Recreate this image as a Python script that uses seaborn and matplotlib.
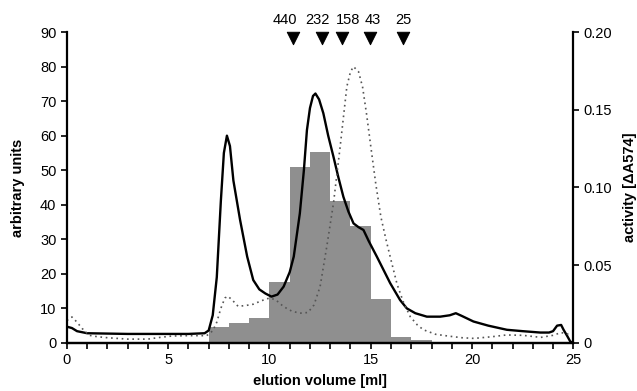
import numpy as np
import pandas as pd
import matplotlib
matplotlib.use("Agg")
import matplotlib.pyplot as plt
import seaborn as sns

# Absorbance trace (solid), arbitrary units
solid_x = [0, 0.25, 0.5, 1, 2, 3, 4, 5, 6, 6.8, 7.0, 7.2, 7.4, 7.6, 7.75, 7.9, 8.05, 8.22,
           8.55, 8.9, 9.2, 9.5, 9.8, 10.1, 10.4, 10.7, 11.0, 11.2, 11.5, 11.7, 11.85, 12.0,
           12.15, 12.27, 12.45, 12.66, 12.9, 13.16, 13.4, 13.65, 13.9, 14.15, 14.4, 14.64,
           14.9, 15.13, 15.3, 15.6, 15.96, 16.45, 16.78, 17.2, 17.77, 18.43, 18.9, 19.2,
           19.5, 20.07, 20.8, 21.72, 22.5, 23.37, 23.8, 24.0, 24.2, 24.4, 24.52, 24.7, 24.85, 25.0]
solid_y = [4.7, 4.3, 3.4, 2.8, 2.7, 2.6, 2.6, 2.6, 2.6, 2.8, 3.6, 8, 19, 41, 55, 60, 57, 47,
           35.6, 25, 18.2, 15.5, 14.3, 13.4, 14.0, 16.3, 20.5, 25, 37.5, 50, 61.6, 68, 71.5,
           72.2, 70.5, 66.5, 60, 53.9, 48, 42.3, 38, 34.6, 33.5, 32.7, 29.5, 26.9, 25, 21.5,
           17.3, 12.4, 10, 8.6, 7.6, 7.6, 8.0, 8.6, 7.8, 6.2, 5.0, 3.8, 3.4, 3.0, 3.0, 3.4,
           5.0, 5.2, 3.8, 2.0, 0.4, 0]

# Second trace (dotted), arbitrary units
dot_x = [0, 0.25, 0.5, 0.75, 1.1, 1.5, 2, 3, 4, 4.6, 5.2, 6, 6.9, 7.2, 7.4, 7.6, 7.8, 7.95,
         8.15, 8.45, 8.8, 9.2, 9.6, 10.0, 10.3, 10.7, 11.1, 11.5, 11.9, 12.2, 12.5, 12.83,
         13.16, 13.49, 13.82, 14.0, 14.15, 14.4, 14.6, 14.8, 15.0, 15.25, 15.5, 15.75, 16.0,
         16.3, 16.6, 16.95, 17.3, 17.6, 18.2, 18.8, 19.5, 20.1, 21.0, 21.7, 22.5, 23.4,
         24.0, 24.4, 24.9]
dot_y = [6.5, 7.5, 6.0, 4.2, 2.2, 1.8, 1.5, 1.1, 1.1, 1.6, 2.0, 2.1, 2.1, 3.5, 6, 10, 13,
         13.5, 12.5, 10.6, 10.8, 11.2, 12.2, 13, 12.5, 10.5, 9.2, 8.6, 8.8, 11, 16.3, 27.9,
         40.4, 56.8, 74.2, 78.5, 80, 78.5, 74, 66, 57, 46, 36.5, 30, 24, 17, 12, 7.6, 5.2,
         3.8, 2.5, 2.0, 1.5, 1.3, 1.8, 2.3, 2.2, 1.6, 2.2, 3.0, 2.3]

# Activity per 1 ml fraction
frac_start = [7, 8, 9, 10, 11, 12, 13, 14, 15, 16, 17]
activity = [0.010, 0.013, 0.016, 0.039, 0.113, 0.123, 0.091, 0.075, 0.028, 0.004, 0.002]

# Calibration standards (kDa)
std_labels = ["440", "232", "158", "43", "25"]
std_pos = [11.17, 12.58, 13.6, 14.94, 16.6]
std_text_pos = [10.75, 12.38, 13.88, 15.09, 16.63]

sns.set_style("ticks")
plt.rcParams["font.family"] = ["Liberation Sans", "DejaVu Sans"]
plt.rcParams["text.color"] = "black"
plt.rcParams["axes.labelcolor"] = "black"
plt.rcParams["xtick.color"] = "black"
plt.rcParams["ytick.color"] = "black"

fig = plt.figure(figsize=(6.37, 3.91), dpi=100)
ax = fig.add_axes([0.105, 0.123, 0.795, 0.795])
ax2 = ax.twinx()

frac = pd.DataFrame({"x": [s + 0.5 for s in frac_start], "w": activity})
sns.histplot(data=frac, x="x", weights="w", binwidth=1, binrange=(7, 18), ax=ax2,
             color="#8f8f8f", alpha=1, edgecolor="none", linewidth=0)

sns.lineplot(x=solid_x, y=solid_y, ax=ax, color="black", linewidth=1.7, sort=False)
sns.lineplot(x=dot_x, y=dot_y, ax=ax, color="#555555", linewidth=1.2,
             linestyle=(0, (1, 2.2)), sort=False)

# molecular mass markers
sns.scatterplot(x=std_pos, y=[88.2] * len(std_pos), ax=ax, marker="v", s=80,
                color="black", edgecolor="black", clip_on=False, zorder=5)
for lab, xp in zip(std_labels, std_text_pos):
    ax.text(xp, 93.6, lab, ha="center", va="center", fontsize=10.5, clip_on=False)

ax.set_zorder(ax2.get_zorder() + 1)
ax.patch.set_visible(False)

ax.set_xlim(0, 25)
ax.set_ylim(0, 90)
ax2.set_ylim(0, 0.20)
ax.set_xticks(range(0, 26))
ax.set_xticklabels([str(i) if i % 5 == 0 else "" for i in range(0, 26)])
ax.set_yticks(range(0, 91, 10))
ax2.set_yticks([0, 0.05, 0.10, 0.15, 0.20])
ax2.set_yticklabels(["0", "0.05", "0.10", "0.15", "0.20"])

for a in (ax, ax2):
    a.tick_params(labelsize=10.5, width=1.2, length=4, direction="out", color="black",
                  labelcolor="black")
    for s in a.spines.values():
        s.set_linewidth(1.6)
        s.set_color("black")
    a.spines["top"].set_visible(False)
ax.spines["right"].set_visible(False)
ax2.spines["left"].set_visible(False)

ax.set_xlabel("elution volume [ml]", fontsize=10.5, fontweight="bold", labelpad=5)
ax.set_ylabel("arbitrary units", fontsize=10.5, fontweight="bold", labelpad=11)
ax2.set_ylabel("activity [\u0394A574]", fontsize=10.5, fontweight="bold", labelpad=8)
ax2.grid(False)
ax.grid(False)

fig.savefig("out.png", dpi=100)
